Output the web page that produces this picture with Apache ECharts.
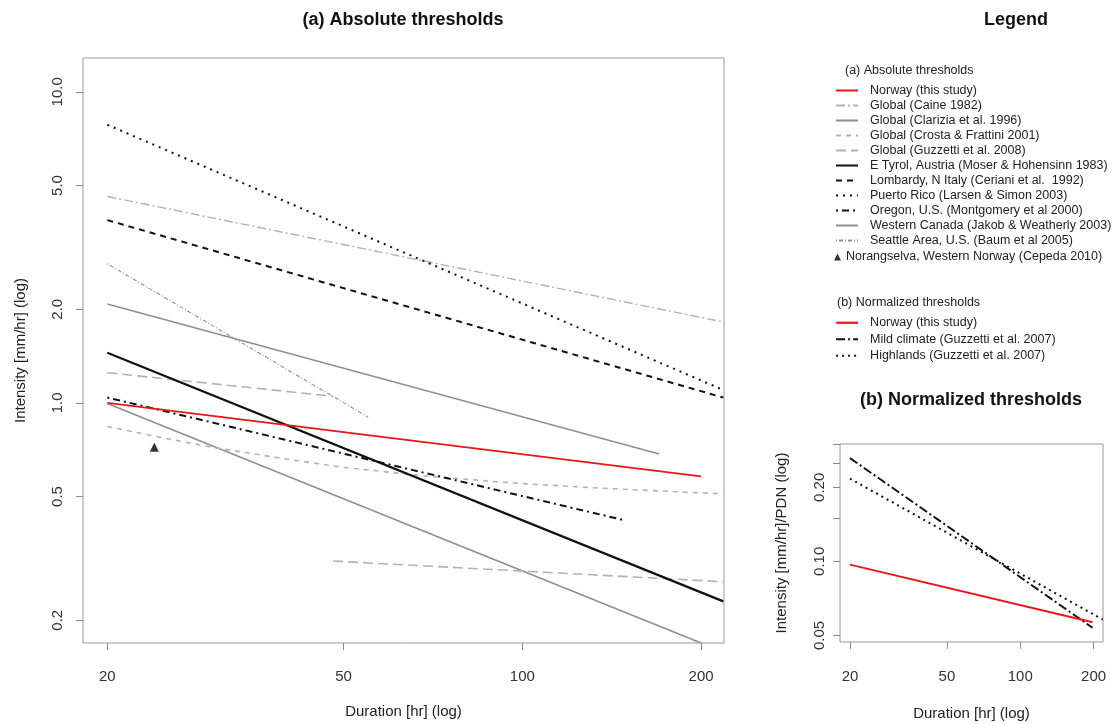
<!DOCTYPE html>
<html>
<head>
<meta charset="utf-8">
<title>Rainfall intensity–duration thresholds</title>
<script src="https://cdn.jsdelivr.net/npm/echarts@6/dist/echarts.min.js"></script>
<style>
  html, body { margin: 0; padding: 0; background: #ffffff; }
  #chart { width: 1120px; height: 724px; }
</style>
</head>
<body>
<div id="chart"></div>
<script>
// ---- Tick values -------------------------------------------------------
const durationTicks = [20, 50, 100, 200];
const intensityTicks = [0.2, 0.5, 1, 2, 5, 10];
const normTicks = [0.05, 0.10, 0.15, 0.20, 0.25, 0.30];
const normTickLabels = [0.05, 0.10, 0.20];

// ---- (a) Absolute thresholds: [duration hr, intensity mm/hr] -------------
const norwayAbs = [[20, 1.00], [200, 0.58]];
const caine = [[20, 4.61], [218, 1.82]];
const clarizia = [[20, 0.996], [200, 0.169]];
const crosta = [[20, 0.84], [25, 0.77], [30, 0.72], [40, 0.66], [50, 0.62],
                [70, 0.58], [100, 0.55], [140, 0.53], [218, 0.51]];
const guzzettiShort = [[20, 1.25], [48, 1.05]];
const guzzettiLong = [[48, 0.31], [218, 0.266]];
const eTyrol = [[20, 1.45], [218, 0.23]];
const lombardy = [[20, 3.87], [218, 1.04]];
const puertoRico = [[20, 7.84], [218, 1.10]];
const oregon = [[20, 1.04], [148, 0.42]];
const westernCanada = [[20, 2.08], [170, 0.685]];
const seattle = [[20, 2.80], [55, 0.90]];
const norangselva = [[24, 0.72]];

// ---- (b) Normalized thresholds: [duration hr, intensity / PDN] ----------
const norwayNorm = [[20, 0.097], [198, 0.0565]];
const mildClimate = [[20, 0.263], [198, 0.0537]];
const highlands = [[20, 0.217], [218, 0.058]];

// ---- Names --------------------------------------------------------------
const N = {
  norway: 'Norway (this study)',
  caine: 'Global (Caine 1982)',
  clarizia: 'Global (Clarizia et al. 1996)',
  crosta: 'Global (Crosta & Frattini 2001)',
  guzzetti: 'Global (Guzzetti et al. 2008)',
  tyrol: 'E Tyrol, Austria (Moser & Hohensinn 1983)',
  lombardy: 'Lombardy, N Italy (Ceriani et al.  1992)',
  puerto: 'Puerto Rico (Larsen & Simon 2003)',
  oregon: 'Oregon, U.S. (Montgomery et al 2000)',
  canada: 'Western Canada (Jakob & Weatherly 2003)',
  seattle: 'Seattle Area, U.S. (Baum et al 2005)',
  norang: 'Norangselva, Western Norway (Cepeda 2010)',
  mild: 'Mild climate (Guzzetti et al. 2007)',
  high: 'Highlands (Guzzetti et al. 2007)'
};

const FONT = '"Liberation Sans", Arial, Helvetica, sans-serif';
const RED = '#e8161c';
const LIGHT = '#b3b3b3';
const MID = '#8f8f8f';
const BLACK = '#111111';
const LEGEND_FONT = 12.5;

function line(name, data, color, width, type, axis) {
  return {
    type: 'line', name: name, data: data,
    xAxisIndex: axis || 0, yAxisIndex: axis || 0,
    symbol: 'none', silent: true, animation: false,
    lineStyle: { color: color, width: width, type: type },
    itemStyle: { color: color }
  };
}

function logX(idx, gap, margin) {
  return {
    type: 'log', logBase: 10, gridIndex: idx,
    min: 18.2, max: 218.6,
    name: 'Duration [hr] (log)', nameLocation: 'middle', nameGap: gap,
    nameTextStyle: { fontFamily: FONT, fontSize: 15, color: '#222' },
    axisLine: { show: false },
    splitLine: { show: false },
    axisTick: { show: true, inside: false, length: 7, customValues: durationTicks,
                lineStyle: { color: '#8a8a8a' } },
    axisLabel: { customValues: durationTicks, margin: margin, fontFamily: FONT, fontSize: 15,
                 color: '#333', formatter: v => String(Math.round(v)) }
  };
}

// legend boxes for the line series: dashed line icon only, no marker
const lineLegend = {
  orient: 'vertical', itemWidth: 22, itemHeight: 10, itemGap: 0, padding: 0,
  selectedMode: false,
  itemStyle: { opacity: 0 }
};

const option = {
  backgroundColor: '#ffffff',
  animation: false,
  grid: [
    { left: 83, top: 58, width: 641, height: 585, show: true,
      borderColor: '#9a9a9a', borderWidth: 1, backgroundColor: 'transparent' },
    { left: 840, top: 444, width: 263, height: 198, show: true,
      borderColor: '#9a9a9a', borderWidth: 1, backgroundColor: 'transparent' }
  ],
  xAxis: [logX(0, 61, 26), logX(1, 64, 27)],
  yAxis: [
    {
      type: 'log', logBase: 10, gridIndex: 0, min: 0.169, max: 12.85,
      name: 'Intensity [mm/hr] (log)', nameLocation: 'middle', nameGap: 55,
      nameTextStyle: { fontFamily: FONT, fontSize: 15, color: '#222' },
      axisLine: { show: false }, splitLine: { show: false },
      axisTick: { show: true, inside: false, length: 7, customValues: intensityTicks,
                  lineStyle: { color: '#8a8a8a' } },
      axisLabel: { customValues: intensityTicks, rotate: 90, margin: 18, fontFamily: FONT,
                   fontSize: 15, color: '#333', formatter: v => Number(v).toFixed(1) }
    },
    {
      type: 'log', logBase: 10, gridIndex: 1, min: 0.047, max: 0.30,
      name: 'Intensity [mm/hr]/PDN (log)', nameLocation: 'middle', nameGap: 51,
      nameTextStyle: { fontFamily: FONT, fontSize: 15, color: '#222' },
      axisLine: { show: false }, splitLine: { show: false },
      axisTick: { show: true, inside: false, length: 7, customValues: normTicks,
                  lineStyle: { color: '#8a8a8a' } },
      axisLabel: { customValues: normTickLabels, rotate: 90, margin: 13, fontFamily: FONT,
                   fontSize: 15, color: '#333', formatter: v => Number(v).toFixed(2) }
    }
  ],
  legend: [
    Object.assign({}, lineLegend, {
      left: 835, top: 83,
      textStyle: { fontFamily: FONT, fontSize: LEGEND_FONT, color: '#222', lineHeight: 15,
                   padding: [0, 0, 0, 7] },
      data: [N.norway, N.caine, N.clarizia, N.crosta, N.guzzetti, N.tyrol, N.lombardy,
             N.puerto, N.oregon, N.canada, N.seattle]
    }),
    {
      orient: 'vertical', left: 834, top: 249.5, itemWidth: 7, itemHeight: 7, itemGap: 0,
      padding: 0, selectedMode: false,
      textStyle: { fontFamily: FONT, fontSize: LEGEND_FONT, color: '#222', lineHeight: 15 },
      data: [N.norang]
    },
    Object.assign({}, lineLegend, {
      left: 835, top: 314.5,
      textStyle: { fontFamily: FONT, fontSize: LEGEND_FONT, color: '#222', lineHeight: 16.5,
                   padding: [0, 0, 0, 7] },
      data: [
        { name: N.norway, lineStyle: { color: RED, width: 2.2 } },
        N.mild, N.high
      ]
    })
  ],
  graphic: [
    { type: 'text', x: 403, y: 20, style: { text: '(a) Absolute thresholds', fill: '#111',
      font: 'bold 18px ' + FONT, textAlign: 'center', textVerticalAlign: 'middle' } },
    { type: 'text', x: 1016, y: 20, style: { text: 'Legend', fill: '#111',
      font: 'bold 18px ' + FONT, textAlign: 'center', textVerticalAlign: 'middle' } },
    { type: 'text', x: 971, y: 400, style: { text: '(b) Normalized thresholds', fill: '#111',
      font: 'bold 18px ' + FONT, textAlign: 'center', textVerticalAlign: 'middle' } },
    { type: 'text', x: 845, y: 71, style: { text: '(a) Absolute thresholds', fill: '#222',
      font: LEGEND_FONT + 'px ' + FONT, textAlign: 'left', textVerticalAlign: 'middle' } },
    { type: 'text', x: 837, y: 303, style: { text: '(b) Normalized thresholds', fill: '#222',
      font: LEGEND_FONT + 'px ' + FONT, textAlign: 'left', textVerticalAlign: 'middle' } }
  ],
  series: [
    line(N.caine, caine, LIGHT, 1.4, [9, 3, 2, 3]),
    line(N.clarizia, clarizia, MID, 1.6, 'solid'),
    line(N.crosta, crosta, LIGHT, 1.6, [5, 5]),
    line(N.guzzetti, guzzettiShort, LIGHT, 1.6, [10, 5]),
    line(N.guzzetti, guzzettiLong, LIGHT, 1.6, [10, 5]),
    line(N.canada, westernCanada, MID, 1.4, 'solid'),
    line(N.seattle, seattle, MID, 1.1, [1, 2, 4, 2]),
    line(N.lombardy, lombardy, BLACK, 2, [6, 5]),
    line(N.puerto, puertoRico, BLACK, 2, [2, 5]),
    line(N.oregon, oregon, BLACK, 2, [2, 4, 7, 4]),
    line(N.tyrol, eTyrol, BLACK, 2.2, 'solid'),
    line(N.norway, norwayAbs, RED, 1.8, 'solid'),
    {
      type: 'scatter', name: N.norang, data: norangselva, xAxisIndex: 0, yAxisIndex: 0,
      symbol: 'triangle', symbolSize: 9, silent: true, itemStyle: { color: '#000' }
    },
    line(N.mild, mildClimate, BLACK, 2, [9, 3, 2, 3], 1),
    line(N.high, highlands, BLACK, 2, [2, 4], 1),
    line(N.norway, norwayNorm, RED, 2, 'solid', 1)
  ]
};

const chart = echarts.init(document.getElementById('chart'), null, { renderer: 'canvas' });
chart.setOption(option);
</script>
</body>
</html>
